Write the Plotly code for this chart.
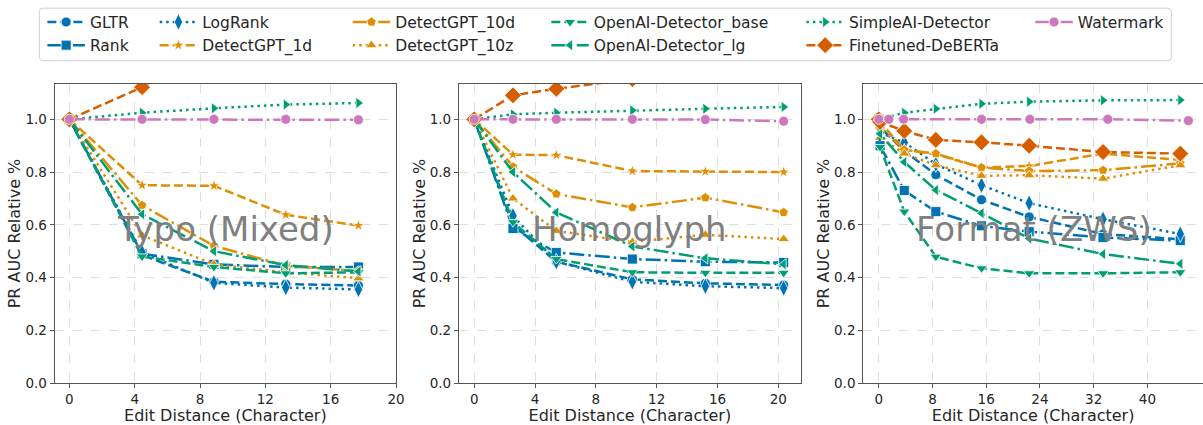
import plotly.graph_objects as go

# ---------------- data ----------------
typo_x = [0, 4.45, 8.85, 13.25, 17.7]
homo_x = [0, 2.55, 5.4, 10.4, 15.2, 20.35]
zws_x = [0, 0.2, 3.8, 8.5, 15.3, 22.4, 33.4, 44.9]
zws_wm_x = [0, 1.5, 3.7, 15.3, 22.5, 34.1, 46.1]

methods = ["GLTR", "Rank", "LogRank", "DetectGPT_1d", "DetectGPT_10d", "DetectGPT_10z",
           "OpenAI-Detector_base", "OpenAI-Detector_lg", "SimpleAI-Detector",
           "Finetuned-DeBERTa", "Watermark"]

typo_gltr = [1.0, 0.485, 0.384, 0.375, 0.37]
typo_rank = [1.0, 0.49, 0.45, 0.44, 0.44]
typo_logrank = [1.0, 0.495, 0.38, 0.362, 0.355]
typo_1d = [1.0, 0.75, 0.748, 0.638, 0.597]
typo_10d = [1.0, 0.674, 0.52, 0.445, 0.425]
typo_10z = [1.0, 0.56, 0.45, 0.42, 0.397]
typo_base = [1.0, 0.48, 0.44, 0.416, 0.42]
typo_lg = [1.0, 0.64, 0.50, 0.447, 0.423]
typo_simple = [1.0, 1.025, 1.042, 1.056, 1.062]
typo_deberta = [1.0, 1.122, 1.28, 1.31, 1.32]
typo_wm = [1.0, 1.0, 1.0, 1.0, 0.998]

homo_gltr = [1.0, 0.60, 0.46, 0.393, 0.378, 0.372]
homo_rank = [1.0, 0.586, 0.495, 0.47, 0.46, 0.457]
homo_logrank = [1.0, 0.634, 0.46, 0.384, 0.367, 0.36]
homo_1d = [1.0, 0.866, 0.864, 0.804, 0.802, 0.80]
homo_10d = [1.0, 0.82, 0.717, 0.666, 0.703, 0.647]
homo_10z = [1.0, 0.70, 0.577, 0.535, 0.562, 0.546]
homo_base = [1.0, 0.61, 0.47, 0.42, 0.418, 0.418]
homo_lg = [1.0, 0.80, 0.647, 0.518, 0.473, 0.45]
homo_simple = [1.0, 1.019, 1.025, 1.034, 1.04, 1.047]
homo_deberta = [1.0, 1.091, 1.116, 1.153, 1.17, 1.18]
homo_wm = [1.0, 1.0, 1.0, 1.0, 0.999, 0.993]

zws_gltr = [1.0, 0.97, 0.88, 0.79, 0.695, 0.63, 0.565, 0.545]
zws_rank = [1.0, 0.90, 0.73, 0.65, 0.596, 0.574, 0.552, 0.54]
zws_logrank = [1.0, 0.95, 0.912, 0.83, 0.75, 0.682, 0.621, 0.565]
zws_1d = [1.0, 0.99, 0.885, 0.867, 0.817, 0.823, 0.87, 0.846]
zws_10d = [1.0, 0.97, 0.884, 0.87, 0.817, 0.804, 0.807, 0.833]
zws_10z = [1.0, 0.93, 0.87, 0.826, 0.786, 0.788, 0.775, 0.826]
zws_base = [1.0, 0.895, 0.65, 0.479, 0.435, 0.416, 0.416, 0.42]
zws_lg = [1.0, 0.945, 0.838, 0.732, 0.644, 0.548, 0.489, 0.452]
zws_simple = [1.0, 1.0, 1.025, 1.04, 1.059, 1.067, 1.072, 1.073]
zws_deberta = [1.0, 0.99, 0.956, 0.922, 0.913, 0.90, 0.876, 0.87]
zws_wm = [1.0, 1.0, 1.0, 1.0, 1.0, 1.0, 0.995]

panel_titles = ["Typo (Mixed)", "Homoglyph", "Format (ZWS)"]
x_ticks_12 = [0, 4, 8, 12, 16, 20]
x_ticks_3 = [0, 8, 16, 24, 32, 40]
y_ticks = [0.0, 0.2, 0.4, 0.6, 0.8, 1.0]

# ---------------- styles ----------------
BLUE, ORANGE, GREEN, RED, PINK = "#0173b2", "#de8f05", "#029e73", "#d55e00", "#cc78bc"
DASH = "9px,4px"
DASHDOT = "15px,4px,2.5px,4px"
DOT = "2.5px,4px"
style = {
    "GLTR": (BLUE, "circle", DASH, 10),
    "Rank": (BLUE, "square", DASHDOT, 10),
    "LogRank": (BLUE, "diamond-tall", DOT, 12),
    "DetectGPT_1d": (ORANGE, "star", DASH, 9),
    "DetectGPT_10d": (ORANGE, "pentagon", DASHDOT, 10),
    "DetectGPT_10z": (ORANGE, "triangle-up", DOT, 10),
    "OpenAI-Detector_base": (GREEN, "triangle-down", DASH, 10),
    "OpenAI-Detector_lg": (GREEN, "triangle-left", DASHDOT, 10),
    "SimpleAI-Detector": (GREEN, "triangle-right", DOT, 10),
    "Finetuned-DeBERTa": (RED, "diamond", DASH, 13),
    "Watermark": (PINK, "circle", DASHDOT, 10),
}

panels = [
    (typo_x, {"Watermark": typo_x}, [typo_gltr, typo_rank, typo_logrank, typo_1d, typo_10d, typo_10z,
                                     typo_base, typo_lg, typo_simple, typo_deberta, typo_wm]),
    (homo_x, {"Watermark": homo_x}, [homo_gltr, homo_rank, homo_logrank, homo_1d, homo_10d, homo_10z,
                                     homo_base, homo_lg, homo_simple, homo_deberta, homo_wm]),
    (zws_x, {"Watermark": zws_wm_x}, [zws_gltr, zws_rank, zws_logrank, zws_1d, zws_10d, zws_10z,
                                      zws_base, zws_lg, zws_simple, zws_deberta, zws_wm]),
]

# legend columns (column-major layout as in the reference)
legend_cols = [["GLTR", "Rank"], ["LogRank", "DetectGPT_1d"], ["DetectGPT_10d", "DetectGPT_10z"],
               ["OpenAI-Detector_base", "OpenAI-Detector_lg"], ["SimpleAI-Detector", "Finetuned-DeBERTa"],
               ["Watermark"]]
legend_of = {}
for i, col in enumerate(legend_cols):
    for m in col:
        legend_of[m] = "legend" if i == 0 else f"legend{i+1}"

W, H = 1203, 425
T, B = 84, 425 - 382.7
def xp(px):
    return px / W
def yp(py):
    return (382.7 - py) / (H - T - B)

fig = go.Figure()
for pi, (xs, xover, series) in enumerate(panels):
    xa = "x" if pi == 0 else f"x{pi+1}"
    ya = "y" if pi == 0 else f"y{pi+1}"
    for m, vals in zip(methods, series):
        color, sym, dash, msize = style[m]
        fig.add_trace(go.Scatter(
            x=xover.get(m, xs), y=vals, name=m, mode="lines+markers",
            line=dict(color=color, width=2.5, dash=dash),
            marker=dict(symbol=sym, size=msize, color=color, line=dict(color="white", width=0.8)),
            xaxis=xa, yaxis=ya, showlegend=(pi == 0), legend=legend_of[m],
        ))

FONT = "DejaVu Sans"
TXT = "#262626"
SPINE = "#555555"
GRID = "#dedede"

domains = [[xp(54.7), xp(396)], [xp(459), xp(800.7)], [xp(863.3), 1.0]]
xranges = [[-0.9, 20], [-1.0, 21.47], [-2.3, 48.28]]
axis_common = dict(showline=True, linecolor=SPINE, linewidth=1.2, mirror=True,
                   ticks="outside", ticklen=4, tickcolor=SPINE, tickwidth=1,
                   showgrid=True, gridcolor=GRID, griddash="dash", gridwidth=1,
                   zeroline=False, tickfont=dict(family=FONT, size=13.5, color=TXT))
layout = {}
for i in range(3):
    sx = "" if i == 0 else str(i + 1)
    layout[f"xaxis{sx}"] = dict(axis_common, domain=domains[i], range=xranges[i],
                                tickvals=x_ticks_3 if i == 2 else x_ticks_12,
                                anchor=f"y{sx}",
                                title=dict(text="Edit Distance (Character)", standoff=2,
                                           font=dict(family=FONT, size=16, color=TXT)))
    layout[f"yaxis{sx}"] = dict(axis_common, domain=[0, 1], range=[0, 1.134],
                                tickvals=y_ticks, tickformat=".1f", anchor=f"x{sx}",
                                title=dict(text="PR AUC Relative %", standoff=0,
                                           font=dict(family=FONT, size=16, color=TXT)))

ann = []
for i, t in enumerate(panel_titles):
    sx = "" if i == 0 else str(i + 1)
    ann.append(dict(text=t, xref=f"x{sx} domain", yref="paper", x=0.5 if i < 2 else (1033.8 - 863.3) / (1203 - 863.3),
                    y=yp(229), xanchor="center", yanchor="middle", showarrow=False,
                    font=dict(family=FONT, size=34, color="#808080")))
layout["annotations"] = ann

col_x = [45.7, 158, 351, 549.6, 804.7, 1033.6]
for i, cx in enumerate(col_x):
    key = "legend" if i == 0 else f"legend{i+1}"
    layout[key] = dict(x=xp(cx - 3.3), y=yp(5.5), xanchor="left", yanchor="top",
                       orientation="v", bgcolor="rgba(0,0,0,0)", borderwidth=0,
                       font=dict(family=FONT, size=15.5, color=TXT), tracegroupgap=0,
                       itemwidth=37.5)

# rounded legend frame
x0, x1, y0, y1, r = 39.3, 1171.4, 8.3, 60.7, 3.5
path = (f"M {xp(x0 + r)},{yp(y0)} L {xp(x1 - r)},{yp(y0)} Q {xp(x1)},{yp(y0)} {xp(x1)},{yp(y0 + r)} "
        f"L {xp(x1)},{yp(y1 - r)} Q {xp(x1)},{yp(y1)} {xp(x1 - r)},{yp(y1)} "
        f"L {xp(x0 + r)},{yp(y1)} Q {xp(x0)},{yp(y1)} {xp(x0)},{yp(y1 - r)} "
        f"L {xp(x0)},{yp(y0 + r)} Q {xp(x0)},{yp(y0)} {xp(x0 + r)},{yp(y0)} Z")
layout["shapes"] = [dict(type="path", xref="paper", yref="paper", path=path,
                         line=dict(color="#d0d0d0", width=1),
                         fillcolor="rgba(255,255,255,0)", layer="below")]

fig.update_layout(**layout)
fig.update_layout(width=W, height=H, margin=dict(l=0, r=0, t=T, b=B),
                  plot_bgcolor="white", paper_bgcolor="white",
                  font=dict(family=FONT, color=TXT))
for a in ["yaxis", "yaxis2", "yaxis3", "xaxis", "xaxis2", "xaxis3"]:
    fig.layout[a].automargin = False

fig.write_html("out.html", config={"displayModeBar": False},
               post_script="document.body.style.margin='0px';document.body.style.padding='0px';document.body.style.overflow='hidden';")
